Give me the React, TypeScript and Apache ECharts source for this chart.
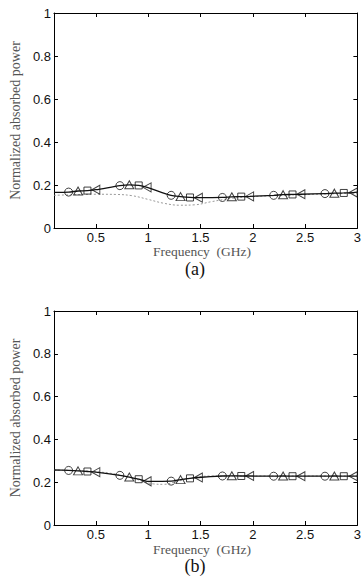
import React, { useEffect, useRef } from "react";
import * as echarts from "echarts";

// Marker frequencies (GHz), shared by both panels
const circleFreq = [0.24, 0.73, 1.22, 1.71, 2.2, 2.69];
const triangleFreq = [0.33, 0.82, 1.31, 1.8, 2.29, 2.78];
const squareFreq = [0.42, 0.91, 1.4, 1.89, 2.38, 2.87];
const leftTriFreq = [0.5, 0.99, 1.48, 1.97, 2.46, 2.96];

// Panel (a) values
const circleA = [0.167, 0.197, 0.152, 0.142, 0.152, 0.16];
const triangleA = [0.172, 0.201, 0.146, 0.145, 0.155, 0.162];
const squareA = [0.174, 0.198, 0.142, 0.146, 0.156, 0.163];
const leftTriA = [0.178, 0.189, 0.141, 0.147, 0.157, 0.165];
const lineEndsA = [[0.1, 0.166], [3.0, 0.167]];
const dottedFreqA = [0.1, 0.3, 0.5, 0.7, 0.85, 1.0, 1.15, 1.3, 1.45, 1.6, 1.8, 2.0, 2.3, 2.6, 3.0];
const dottedA = [0.152, 0.155, 0.157, 0.156, 0.15, 0.133, 0.115, 0.106, 0.108, 0.122, 0.138, 0.146, 0.152, 0.157, 0.162];

// Panel (b) values
const circleB = [0.255, 0.232, 0.205, 0.229, 0.228, 0.228];
const triangleB = [0.253, 0.224, 0.212, 0.23, 0.229, 0.229];
const squareB = [0.25, 0.214, 0.218, 0.229, 0.228, 0.228];
const leftTriB = [0.247, 0.204, 0.222, 0.229, 0.228, 0.228];
const lineEndsB = [[0.1, 0.257], [3.0, 0.228]];
const dottedFreqB = [0.1, 0.5, 0.75, 0.95, 1.05, 1.15, 1.25, 1.4, 1.6, 2.0, 3.0];
const dottedB = [0.257, 0.249, 0.232, 0.205, 0.192, 0.19, 0.2, 0.218, 0.229, 0.229, 0.229];

const xTicks = [0.5, 1, 1.5, 2, 2.5, 3];
const xLabel = "Frequency  (GHz)";
const yLabel = "Normalized absorbed power";
const panelLabels = ["(a)", "(b)"];

const zip = (xs: number[], ys: number[]) => xs.map((x, i) => [x, ys[i]]);

function buildLine(ends: number[][], sets: number[][][]) {
  const pts: number[][] = [ends[0]];
  sets.forEach((s) => s.forEach((p) => pts.push(p)));
  pts.push(ends[1]);
  return pts.sort((a, b) => a[0] - b[0]);
}

const serif = "'Liberation Serif', 'Times New Roman', serif";
const sans = "'Liberation Sans', Arial, sans-serif";
const leftTriSymbol = "path://M10,0 L0,5 L10,10 Z";

export default function App() {
  const ref = useRef<HTMLDivElement>(null);
  useEffect(() => {
    if (!ref.current) return;
    const chart = echarts.init(ref.current, null, { renderer: "svg" });
    const grids = [
      { left: 43, top: 13, width: 319, height: 215 },
      { left: 43, top: 311, width: 319, height: 214 },
    ];
    const xAxes: any[] = [];
    const yAxes: any[] = [];
    const series: any[] = [];
    const panels = [
      { c: circleA, t: triangleA, s: squareA, l: leftTriA, ends: lineEndsA, df: dottedFreqA, d: dottedA },
      { c: circleB, t: triangleB, s: squareB, l: leftTriB, ends: lineEndsB, df: dottedFreqB, d: dottedB },
    ];
    panels.forEach((p, gi) => {
      const base = {
        type: "value",
        gridIndex: gi,
        min: 0.1,
        max: 3,
        splitLine: { show: false },
        axisLine: { show: true, onZero: false, lineStyle: { color: "#000", width: 1 } },
        axisTick: { show: true, inside: true, length: 4, customValues: xTicks, lineStyle: { color: "#000" } },
      };
      xAxes.push({
        ...base,
        position: "bottom",
        axisLabel: { show: true, customValues: xTicks, margin: 3, fontFamily: sans, fontSize: 13, lineHeight: 13, color: "#111" },
      });
      xAxes.push({ ...base, position: "top", axisLabel: { show: false } });
      const ybase = {
        type: "value",
        gridIndex: gi,
        min: 0,
        max: 1,
        interval: 0.2,
        splitLine: { show: false },
        axisLine: { show: true, onZero: false, lineStyle: { color: "#000", width: 1 } },
        axisTick: { show: true, inside: true, length: 4, lineStyle: { color: "#000" } },
      };
      yAxes.push({
        ...ybase,
        position: "left",
        axisLabel: { show: true, margin: 3, fontFamily: sans, fontSize: 13, color: "#111" },
        name: yLabel,
        nameLocation: "middle",
        nameGap: 24,
        nameTextStyle: { fontFamily: serif, fontSize: 14, color: "#555" },
      });
      yAxes.push({ ...ybase, position: "right", axisLabel: { show: false } });

      const xi = gi * 2;
      const yi = gi * 2;
      const cPts = zip(circleFreq, p.c);
      const tPts = zip(triangleFreq, p.t);
      const sPts = zip(squareFreq, p.s);
      const lPts = zip(leftTriFreq, p.l);
      series.push({
        type: "line",
        xAxisIndex: xi,
        yAxisIndex: yi,
        data: zip(p.df, p.d),
        smooth: 0.4,
        showSymbol: false,
        symbol: "none",
        lineStyle: { color: "#999", width: 1, type: [2, 2] },
        z: 1,
      });
      series.push({
        type: "line",
        xAxisIndex: xi,
        yAxisIndex: yi,
        data: buildLine(p.ends, [cPts, tPts, sPts, lPts]),
        smooth: 0.25,
        symbol: "none",
        lineStyle: { color: "#111", width: 1.3 },
        z: 2,
      });
      const markerDefs = [
        { pts: cPts, symbol: "circle", size: 8 },
        { pts: tPts, symbol: "triangle", size: [9, 8] },
        { pts: sPts, symbol: "rect", size: 7 },
        { pts: lPts, symbol: leftTriSymbol, size: [8, 9] },
      ];
      markerDefs.forEach((m) => {
        series.push({
          type: "scatter",
          xAxisIndex: xi,
          yAxisIndex: yi,
          data: m.pts,
          symbol: m.symbol,
          symbolSize: m.size,
          itemStyle: { color: "rgba(255,255,255,0)", borderColor: "#111", borderWidth: 1 },
          z: 3,
        });
      });
    });

    const nameStyle = { font: `13.5px ${serif}`, fill: "#555", align: "center", verticalAlign: "middle" };
    const tagStyle = { font: `18px ${serif}`, fill: "#111", align: "center", verticalAlign: "middle" };

    chart.setOption({
      animation: false,
      backgroundColor: "#fff",
      grid: grids,
      xAxis: xAxes,
      yAxis: yAxes,
      series,
      graphic: [
        { type: "text", x: 202, y: 251, style: { ...nameStyle, text: xLabel } },
        { type: "text", x: 195, y: 269, style: { ...tagStyle, text: panelLabels[0] } },
        { type: "text", x: 202, y: 549, style: { ...nameStyle, text: xLabel } },
        { type: "text", x: 195, y: 566, style: { ...tagStyle, text: panelLabels[1] } },
      ],
    });
    return () => chart.dispose();
  }, []);
  return (
    <div
      ref={ref}
      style={{ position: "fixed", left: 0, top: 0, width: 364, height: 576, background: "#fff" }}
    />
  );
}
